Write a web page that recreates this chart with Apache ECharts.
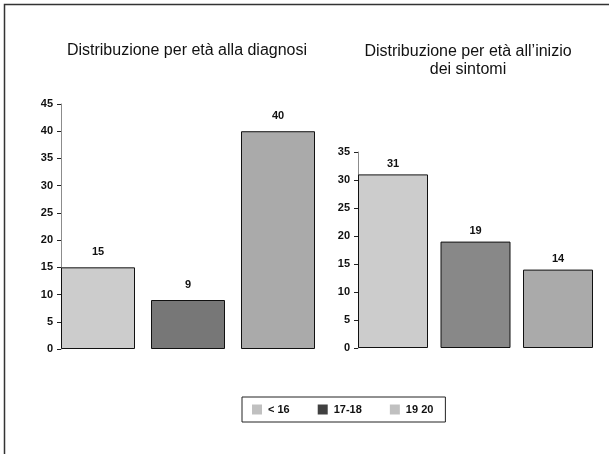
<!DOCTYPE html>
<html>
<head>
<meta charset="utf-8">
<style>
  html, body { margin: 0; padding: 0; background: #fff; }
  #chart { width: 609px; height: 454px; }
</style>
<script src="https://cdn.jsdelivr.net/npm/echarts@6/dist/echarts.min.js"></script>
</head>
<body>
<div id="chart"></div>
<script>
// Age classes (shared by both panels and the legend)
const categories = ['< 16', '17-18', '19 20'];

// Patients by age at diagnosis
const diagnosisValues = [15, 9, 40];
// Patients by age at symptom onset
const onsetValues = [31, 19, 14];

// Y axis ranges
const diagnosisMax = 45;
const onsetMax = 35;
const tickStep = 5;

const diagnosisColors = ['#cccccc', '#777777', '#aaaaaa'];
const onsetColors = ['#cccccc', '#888888', '#aaaaaa'];
const legendColors = ['#c0c0c0', '#404040', '#c0c0c0'];

const FONT = 'Liberation Sans, Arial, sans-serif';

function panelSeries(values, colors, axisIndex, barWidth, labelDistance) {
  return categories.map((name, i) => ({
    name: name,
    type: 'bar',
    xAxisIndex: axisIndex,
    yAxisIndex: axisIndex,
    barWidth: barWidth,
    barGap: '-100%',
    data: categories.map((c, j) => (j === i ? values[i] : '-')),
    itemStyle: { color: colors[i], borderColor: '#111', borderWidth: 1 },
    label: {
      show: true,
      position: 'top',
      distance: labelDistance,
      fontFamily: FONT,
      fontWeight: 'bold',
      fontSize: 11,
      color: '#111'
    },
    emphasis: { disabled: true }
  }));
}

function valueAxis(gridIndex, max, offset) {
  return {
    type: 'value',
    gridIndex: gridIndex,
    min: 0,
    max: max,
    interval: tickStep,
    offset: offset,
    splitLine: { show: false },
    axisLine: { show: true, lineStyle: { color: '#8c8c8c', width: 1 } },
    axisTick: { show: true, length: 4, lineStyle: { color: '#222' } },
    axisLabel: {
      margin: 8,
      fontFamily: FONT,
      fontWeight: 'bold',
      fontSize: 11,
      color: '#111'
    }
  };
}

function categoryAxis(gridIndex) {
  return {
    type: 'category',
    gridIndex: gridIndex,
    data: categories,
    axisLine: { show: false },
    axisTick: { show: false },
    axisLabel: { show: false }
  };
}

const chart = echarts.init(document.getElementById('chart'), null, { renderer: 'canvas' });

chart.setOption({
  animation: false,
  backgroundColor: '#ffffff',
  title: [
    {
      text: 'Distribuzione per età alla diagnosi',
      left: 182,
      top: 38,
      textAlign: 'center',
      textStyle: { fontFamily: FONT, fontWeight: 'normal', fontSize: 16, color: '#111' }
    },
    {
      text: 'Distribuzione per età all\u2019inizio\ndei sintomi',
      left: 463,
      top: 38,
      textAlign: 'center',
      textStyle: { fontFamily: FONT, fontWeight: 'normal', fontSize: 16, lineHeight: 18, color: '#111', align: 'center' }
    }
  ],
  grid: [
    { left: 53, width: 270, top: 104, height: 245 },
    { left: 351.75, width: 247.5, top: 152, height: 196 }
  ],
  xAxis: [categoryAxis(0), categoryAxis(1)],
  yAxis: [valueAxis(0, diagnosisMax, -8), valueAxis(1, onsetMax, -6.25)],
  legend: {
    left: 242,
    top: 397,
    orient: 'horizontal',
    padding: [7, 12, 7, 10],
    itemWidth: 10,
    itemHeight: 10,
    itemGap: 28,
    borderColor: '#222',
    borderWidth: 1,
    borderRadius: 0,
    selectedMode: false,
    icon: 'rect',
    textStyle: { fontFamily: FONT, fontWeight: 'bold', fontSize: 11, color: '#111', padding: [0, 0, 0, 1] },
    data: categories.map((name, i) => ({
      name: name,
      itemStyle: { color: legendColors[i], borderWidth: 0 }
    }))
  },
  series: [
    ...panelSeries(diagnosisValues, diagnosisColors, 0, 74, 10),
    ...panelSeries(onsetValues, onsetColors, 1, 70, 5)
  ],
  graphic: [
    {
      type: 'polyline',
      shape: { points: [[4.5, 454], [4.5, 4.5], [609, 4.5]] },
      style: { stroke: '#333', lineWidth: 1.5, fill: null },
      silent: true
    }
  ]
});
</script>
</body>
</html>
